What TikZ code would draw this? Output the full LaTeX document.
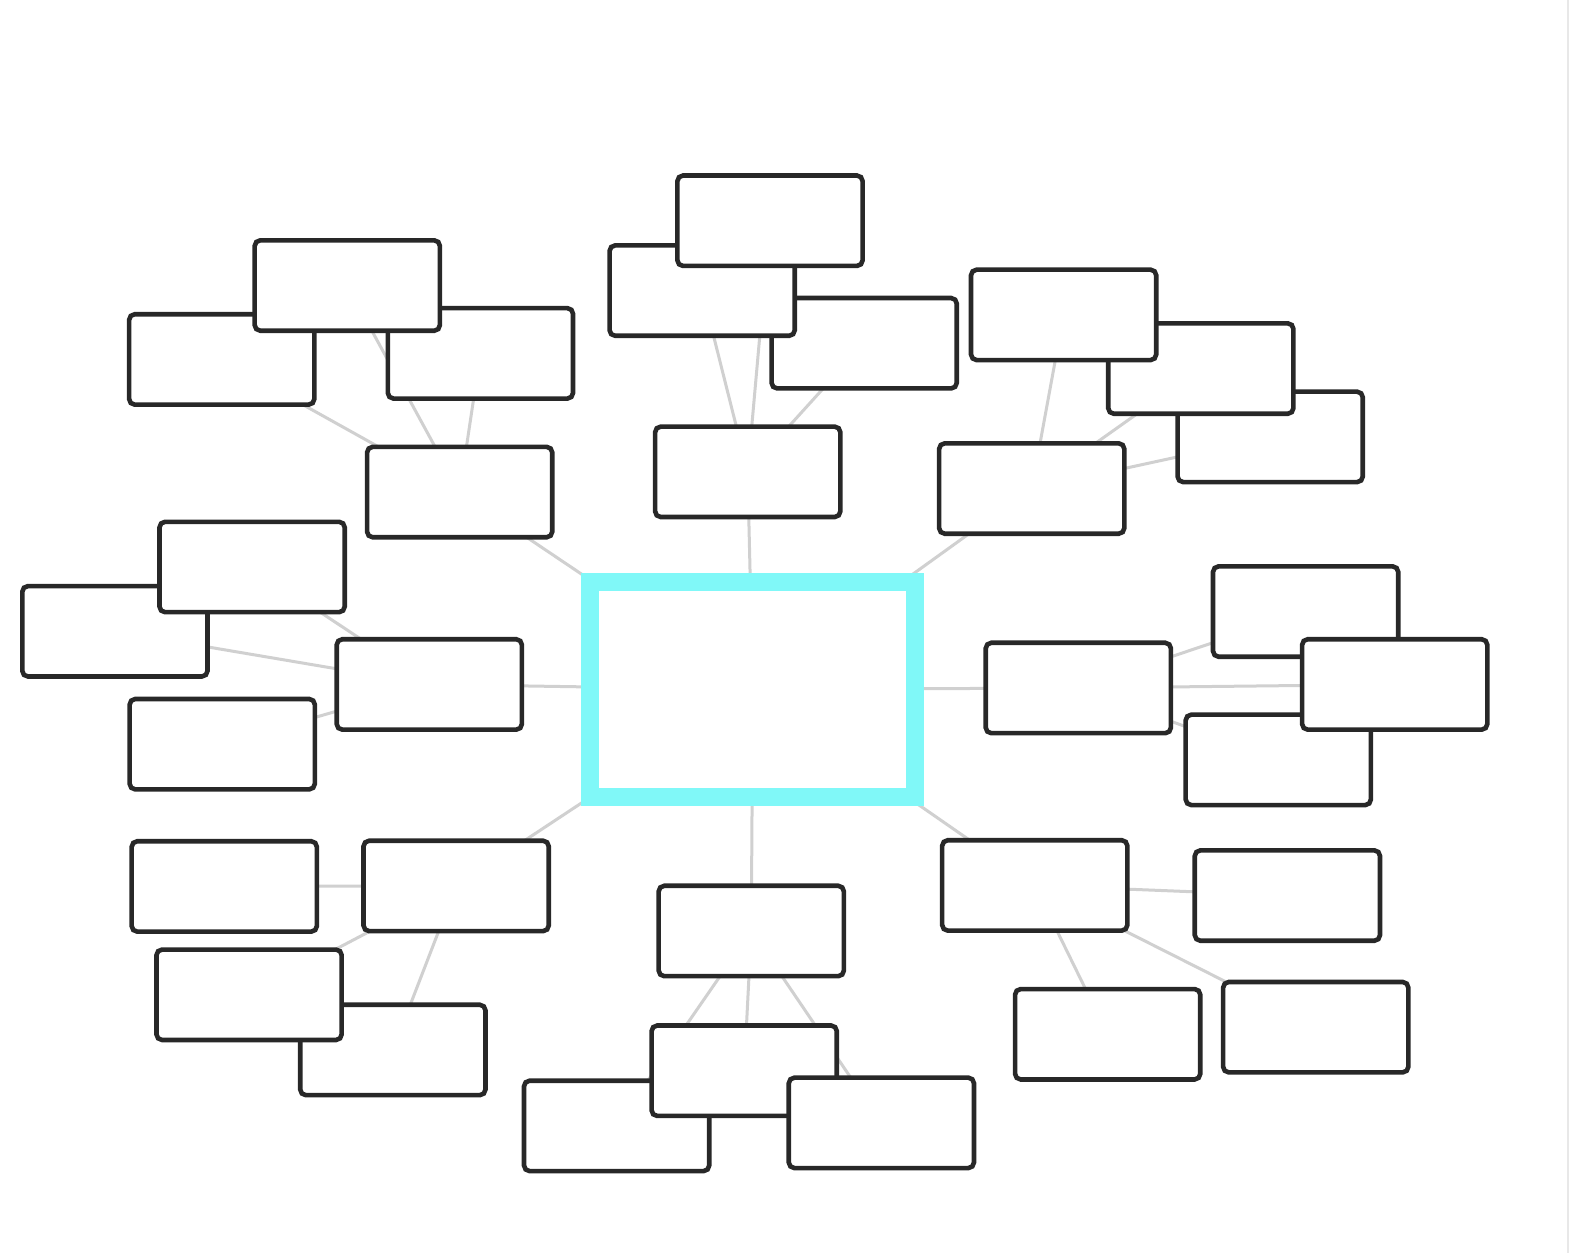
\documentclass[tikz,border=0pt]{standalone}
\usetikzlibrary{backgrounds}
\definecolor{hubcyan}{RGB}{128,248,248}
\definecolor{boxline}{RGB}{40,40,40}
\definecolor{linkgray}{RGB}{208,208,208}
\definecolor{edgegray}{RGB}{232,232,232}
\begin{document}
\begin{tikzpicture}[x=0.50625pt,y=-0.50625pt,
  leaf/.style={draw=boxline, fill=white, line width=2.3pt, rounded corners=2.8pt,
    minimum width=92.6pt, minimum height=45.2pt, inner sep=0pt, outer sep=0pt},
  hub/.style={draw=hubcyan, fill=white, line width=9.1pt,
    minimum width=162.5pt, minimum height=107.3pt, inner sep=0pt, outer sep=0pt},
  link/.style={draw=linkgray, line width=1.5pt}]
\useasboundingbox (0,0) rectangle (1568.4,1237.5);

% hub
\node[hub] (hub) at (743.5,681) {};

% first level
\node[leaf] (tl) at (454,486) {};
\node[leaf] (t) at (738.5,466) {};
\node[leaf] (tr) at (1019,482.5) {};
\node[leaf] (l) at (424,676) {};
\node[leaf] (r) at (1065,679.5) {};
\node[leaf] (bl) at (450.5,875) {};
\node[leaf] (b) at (742,919.5) {};
\node[leaf] (br) at (1022,874.5) {};

% top-left group
\node[leaf] (tla) at (219,355) {};
\node[leaf] (tlc) at (474.5,349) {};
\node[leaf] (tlb) at (343,282) {};
% top group
\node[leaf] (tc) at (853.5,339) {};
\node[leaf] (ta) at (693.5,287) {};
\node[leaf] (tb) at (760.5,218) {};
% top-right group
\node[leaf] (trc) at (1254.5,431.5) {};
\node[leaf] (trb) at (1186,364) {};
\node[leaf] (tra) at (1050.5,311) {};
% right group
\node[leaf] (ra) at (1289.5,604) {};
\node[leaf] (rc) at (1262.5,750.5) {};
\node[leaf] (rb) at (1377.5,676) {};
% left group
\node[leaf] (lb) at (113.5,623.5) {};
\node[leaf] (la) at (249,560) {};
\node[leaf] (lc) at (219.5,735) {};
% bottom-left group
\node[leaf] (blc) at (388,1037) {};
\node[leaf] (blb) at (246,982.5) {};
\node[leaf] (bla) at (221.5,875.5) {};
% bottom group
\node[leaf] (bb) at (609,1112) {};
\node[leaf] (ba) at (735,1057.5) {};
\node[leaf] (bc) at (870.5,1109) {};
% bottom-right group
\node[leaf] (bra) at (1271.5,884.5) {};
\node[leaf] (brb) at (1094,1021.5) {};
\node[leaf] (brc) at (1299.5,1014.5) {};

\begin{scope}[on background layer]
\fill[white] (0,0) rectangle (1568.4,1237.5);
\draw[edgegray, line width=1pt] (1549,0) -- (1549,1237.5);
\foreach \n in {tl,t,tr,l,r,bl,b,br} \draw[link] (hub) -- (\n);
\foreach \n in {tla,tlb,tlc} \draw[link] (tl) -- (\n);
\foreach \n in {ta,tb,tc} \draw[link] (t) -- (\n);
\foreach \n in {tra,trb,trc} \draw[link] (tr) -- (\n);
\foreach \n in {ra,rb,rc} \draw[link] (r) -- (\n);
\foreach \n in {la,lb,lc} \draw[link] (l) -- (\n);
\foreach \n in {bla,blb,blc} \draw[link] (bl) -- (\n);
\foreach \n in {ba,bb,bc} \draw[link] (b) -- (\n);
\foreach \n in {bra,brb,brc} \draw[link] (br) -- (\n);
\end{scope}
\end{tikzpicture}
\end{document}
